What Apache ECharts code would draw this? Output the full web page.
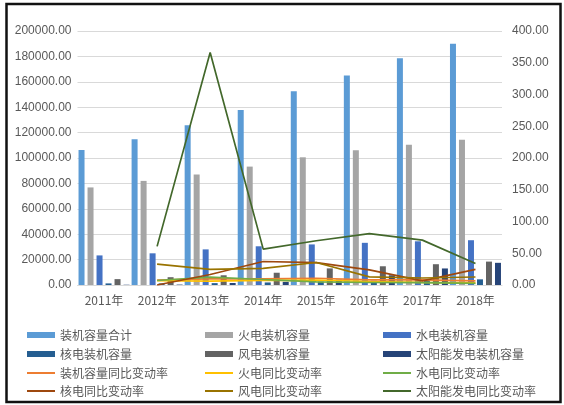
<!DOCTYPE html>
<html>
<head>
<meta charset="utf-8">
<script src="https://cdn.jsdelivr.net/npm/echarts@6/dist/echarts.min.js"></script>
<style>
html,body{margin:0;padding:0;background:#fff;}
#c{width:564px;height:405px;}
</style>
</head>
<body>
<div id="c"></div>
<script>
// ---- data ----
const categories = ['2011年','2012年','2013年','2014年','2015年','2016年','2017年','2018年'];

const barNames = ['装机容量合计','火电装机容量','水电装机容量','核电装机容量','风电装机容量','太阳能发电装机容量'];
const totalCap   = [106253,114676,125768,137887,152527,165051,178451,190012];
const thermalCap = [76834,81968,87009,93232,100554,106094,110495,114408];
const hydroCap   = [23298,24947,28044,30486,31954,33207,34411,35259];
const nuclearCap = [1257,1257,1466,2008,2717,3364,3582,4466];
const windCap    = [4623,6142,7652,9657,13075,14747,16367,18426];
const solarCap   = [212,341,1589,2486,4218,7631,13025,17463];

const lineNames = ['装机容量同比变动率','火电同比变动率','水电同比变动率','核电同比变动率','风电同比变动率','太阳能发电同比变动率'];
const totalYoy   = ['-',7.9,9.7,9.6,10.6,8.2,8.1,6.5];
const thermalYoy = ['-',6.7,6.1,7.2,7.8,5.5,4.1,3.5];
const hydroYoy   = ['-',7.1,12.4,8.7,4.8,3.9,3.6,2.5];
const nuclearYoy = ['-',0.0,16.6,37.0,35.3,23.8,6.5,24.7];
const windYoy    = ['-',32.9,24.6,26.2,35.4,12.8,11.0,12.6];
const solarYoy   = ['-',60.8,366.0,56.5,69.7,80.9,70.7,34.0];

const leftAxis  = {min:0, max:200000, interval:20000};
const rightAxis = {min:0, max:400, interval:50};

// ---- styling ----
const barColors  = ['#5B9BD5','#A5A5A5','#4472C4','#255E91','#636363','#264478'];
const lineColors = ['#ED7D31','#FFC000','#70AD47','#9E480E','#997300','#43682B'];
const barData  = [totalCap,thermalCap,hydroCap,nuclearCap,windCap,solarCap];
const lineData = [totalYoy,thermalYoy,hydroYoy,nuclearYoy,windYoy,solarYoy];

const FONT = '"Noto Sans CJK SC","Liberation Sans",sans-serif';
const TXT = '#595959';

const series = [];
barNames.forEach((n,i)=>{
  series.push({
    name:n, type:'bar', yAxisIndex:0, data:barData[i],
    barWidth:6, barGap:'50%',
    itemStyle:{color:barColors[i]}
  });
});
lineNames.forEach((n,i)=>{
  series.push({
    name:n, type:'line', yAxisIndex:1, data:lineData[i],
    symbol:'none', showSymbol:false,
    lineStyle:{color:lineColors[i], width:1.7},
    itemStyle:{color:lineColors[i]},
    z:3
  });
});

// legend layout: 3 columns x 4 rows
const colX = [27, 205, 383];
const rowY = [335, 354, 373, 391];
const legendOrder = [
  barNames[0], barNames[1], barNames[2],
  barNames[3], barNames[4], barNames[5],
  lineNames[0], lineNames[1], lineNames[2],
  lineNames[3], lineNames[4], lineNames[5]
];
const legends = legendOrder.map((n,k)=>{
  const isLine = k >= 6;
  const h = isLine ? 2 : 6;
  return {
    data:[{name:n, icon:'rect'}],
    left: colX[k%3],
    top: rowY[Math.floor(k/3)] - 7,
    padding:0,
    itemWidth:28, itemHeight:h,
    selectedMode:false,
    textStyle:{color:TXT, fontSize:12, fontFamily:FONT, lineHeight:14}
  };
});

const chart = echarts.init(document.getElementById('c'), null, {renderer:'canvas'});
chart.setOption({
  animation:false,
  backgroundColor:'#fff',
  grid:{left:77.5, right:62, top:31, bottom:120},
  xAxis:{
    type:'category', data:categories,
    axisLine:{show:true, lineStyle:{color:'#D9D9D9'}},
    axisTick:{show:false},
    axisLabel:{color:TXT, fontSize:12, fontFamily:FONT, margin:9}
  },
  yAxis:[
    {type:'value', min:leftAxis.min, max:leftAxis.max, interval:leftAxis.interval,
     axisLine:{show:false}, axisTick:{show:false},
     splitLine:{lineStyle:{color:'#D9D9D9'}},
     axisLabel:{color:TXT, fontSize:12, fontFamily:'"Liberation Sans",sans-serif', margin:6,
       formatter:v=>v.toFixed(2)}},
    {type:'value', min:rightAxis.min, max:rightAxis.max, interval:rightAxis.interval,
     axisLine:{show:false}, axisTick:{show:false},
     splitLine:{show:false},
     axisLabel:{color:TXT, fontSize:12, fontFamily:'"Liberation Sans",sans-serif', margin:10,
       formatter:v=>v.toFixed(2)}}
  ],
  legend:legends,
  series:series,
  graphic:[{
    type:'rect', silent:true, z:100,
    shape:{x:6.5, y:4, width:554, height:398},
    style:{fill:'none', stroke:'#111', lineWidth:2.5}
  }]
});
</script>
</body>
</html>
